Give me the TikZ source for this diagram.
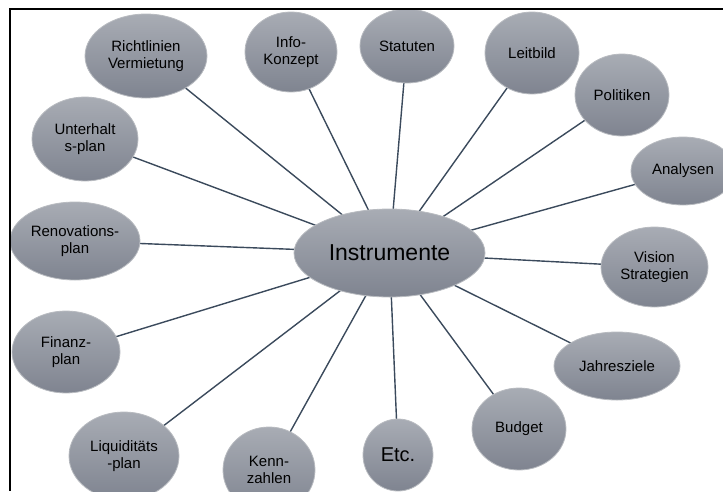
\documentclass[tikz,border=0pt]{standalone}
\usepackage{fontspec}
\setmainfont{Liberation Sans}
\usetikzlibrary{shapes.geometric,backgrounds}
\definecolor{linec}{HTML}{3B4A5C}
\definecolor{topc}{HTML}{A8ACB4}
\definecolor{botc}{HTML}{7F8490}
\definecolor{edgec}{HTML}{B8BBC0}
\tikzset{
  bub/.style={ellipse, inner sep=0pt, draw=edgec, line width=0.8pt,
    top color=topc, bottom color=botc, align=center,
    font=\fontsize{15}{17}\selectfont},
  spoke/.style={draw=linec, line width=1.4pt},
  frame/.style={draw=black, line width=1.6pt}
}
\begin{document}
\begin{tikzpicture}[x=1pt,y=-1pt]
\useasboundingbox (0,0) rectangle (723,491);
\clip (0,0) rectangle (723,491);
\node[bub, minimum width=191pt, minimum height=88pt, font=\fontsize{23}{26}\selectfont] (c) at (389.5,253) {Instrumente};
\node[bub, minimum width=122pt, minimum height=84pt] (ri) at (146,56) {Richtlinien\\Vermietung};
\node[bub, minimum width=92pt, minimum height=80pt] (info) at (291,52) {Info-\\Konzept};
\node[bub, minimum width=94pt, minimum height=74pt] (stat) at (407,46) {Statuten};
\node[bub, minimum width=94pt, minimum height=82pt] (leit) at (532,53) {Leitbild};
\node[bub, minimum width=94pt, minimum height=82pt] (pol) at (622,95) {Politiken};
\node[bub, minimum width=104pt, minimum height=68pt] (ana) at (683,171) {Analysen};
\node[bub, minimum width=107pt, minimum height=80pt] (vis) at (654.5,267) {Vision\\Strategien};
\node[bub, minimum width=126pt, minimum height=68pt] (jahr) at (617,366) {Jahresziele};
\node[bub, minimum width=94pt, minimum height=82pt] (bud) at (519,429) {Budget};
\node[bub, minimum width=70pt, minimum height=72pt, font=\fontsize{20}{22}\selectfont] (etc) at (398,455) {Etc.};
\node[bub, minimum width=92pt, minimum height=86pt] (kenn) at (269,470) {Kenn-\\zahlen};
\node[bub, minimum width=110pt, minimum height=88pt] (liq) at (124,456) {Liquiditäts\\-plan};
\node[bub, minimum width=108pt, minimum height=82pt] (fin) at (66,352) {Finanz-\\plan};
\node[bub, minimum width=130pt, minimum height=78pt] (ren) at (75,241) {Renovations-\\plan};
\node[bub, minimum width=106pt, minimum height=84pt] (unt) at (85,139) {Unterhalt\\s-plan};
\begin{scope}[on background layer]
  \foreach \n in {ri,info,stat,leit,pol,ana,vis,jahr,bud,etc,kenn,liq,fin,ren,unt}
    \draw[spoke] (c.center) -- (\n.center);
\end{scope}
\coordinate (ftr) at (723,9);
\coordinate (ftl) at (10,9);
\coordinate (fbl) at (10,491);
\draw[frame] (ftr) -- (ftl) -- (fbl);
\end{tikzpicture}
\end{document}
